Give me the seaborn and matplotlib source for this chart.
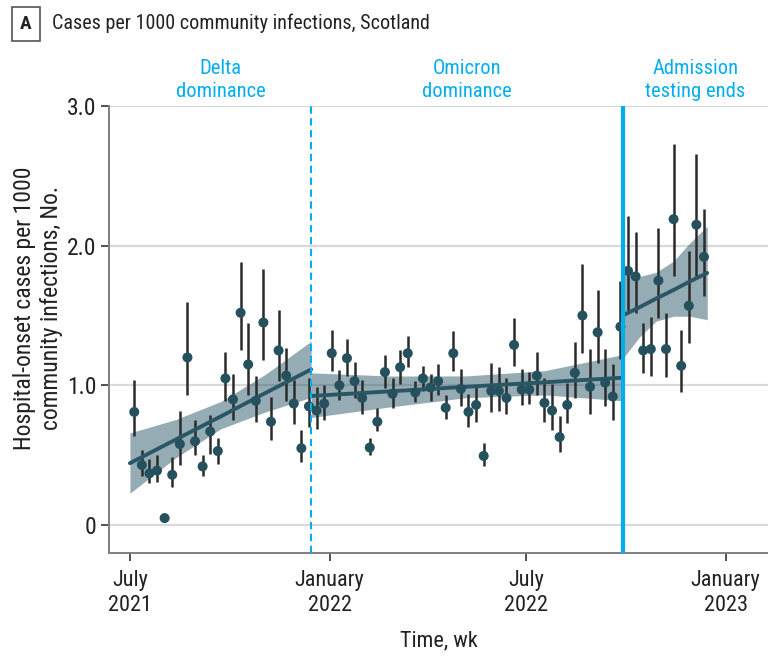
import numpy as np
import pandas as pd
import matplotlib
matplotlib.use("Agg")
import matplotlib.pyplot as plt
import matplotlib.transforms as mtransforms
from matplotlib import font_manager as fm
import seaborn as sns

# ---------------- data ----------------
week_start = "2021-07-05"
n_weeks = 76
rate = [0.81, 0.43, 0.37, 0.39, 0.05, 0.36, 0.58, 1.20, 0.60, 0.42,
        0.67, 0.53, 1.05, 0.90, 1.52, 1.15, 0.89, 1.45, 0.74, 1.25,
        1.07, 0.87, 0.55, 0.85, 0.82, 0.87, 1.23, 1.00, 1.195, 1.03,
        0.91, 0.555, 0.74, 1.095, 0.94, 1.13, 1.23, 0.95, 1.05, 0.985,
        1.03, 0.84, 1.23, 0.975, 0.81, 0.86, 0.495, 0.96, 0.96, 0.91,
        1.29, 0.97, 0.97, 1.07, 0.875, 0.82, 0.63, 0.86, 1.09, 1.50,
        0.99, 1.38, 1.02, 0.92, 1.42, 1.82, 1.78, 1.25, 1.26, 1.75,
        1.26, 2.19, 1.14, 1.57, 2.15, 1.92]
ci_low = [0.64, 0.35, 0.30, 0.31, 0.03, 0.27, 0.43, 0.93, 0.50, 0.35,
          0.51, 0.44, 0.89, 0.75, 1.25, 0.93, 0.74, 1.18, 0.61, 1.03,
          0.89, 0.72, 0.45, 0.70, 0.69, 0.75, 1.10, 0.895, 1.07, 0.91,
          0.795, 0.50, 0.67, 0.98, 0.84, 1.01, 1.13, 0.88, 0.96, 0.89,
          0.93, 0.76, 1.10, 0.85, 0.705, 0.74, 0.42, 0.81, 0.82, 0.795,
          1.14, 0.86, 0.87, 0.93, 0.74, 0.68, 0.52, 0.73, 0.91, 1.23,
          0.795, 1.16, 0.85, 0.75, 1.19, 1.53, 1.52, 1.09, 1.07, 1.48,
          1.06, 1.78, 0.95, 1.30, 1.77, 1.64]
ci_high = [1.04, 0.54, 0.47, 0.50, 0.07, 0.49, 0.82, 1.60, 0.75, 0.50,
           0.79, 0.62, 1.24, 1.08, 1.88, 1.45, 1.07, 1.83, 0.92, 1.54,
           1.27, 1.04, 0.68, 1.05, 0.99, 1.00, 1.40, 1.11, 1.33, 1.17,
           1.04, 0.62, 0.84, 1.22, 1.05, 1.25, 1.35, 1.03, 1.14, 1.08,
           1.15, 0.93, 1.39, 1.12, 0.94, 1.005, 0.585, 1.16, 1.13, 1.05,
           1.48, 1.12, 1.095, 1.24, 1.05, 1.01, 0.78, 1.02, 1.31, 1.87,
           1.26, 1.68, 1.26, 1.15, 1.75, 2.21, 2.10, 1.45, 1.49, 2.13,
           1.52, 2.73, 1.40, 1.96, 2.66, 2.26]

# fitted segments (centre line and confidence band)
delta_fit_dates = ["2021-07-01", "2021-08-12", "2021-09-23", "2021-11-03", "2021-12-15"]
delta_fit = [0.443, 0.611, 0.779, 0.946, 1.114]
delta_band_low = [0.228, 0.480, 0.690, 0.810, 0.914]
delta_band_high = [0.660, 0.755, 0.885, 1.080, 1.316]

omicron_fit_dates = ["2021-12-15", "2022-02-25", "2022-05-07", "2022-07-18", "2022-09-28"]
omicron_fit = [0.924, 0.957, 0.990, 1.022, 1.055]
omicron_band_low = [0.770, 0.845, 0.912, 0.932, 0.890]
omicron_band_high = [1.090, 1.067, 1.068, 1.105, 1.220]

post_fit_dates = ["2022-09-28", "2022-10-14", "2022-10-29", "2022-11-14", "2022-11-29", "2022-12-15"]
post_fit = [1.500, 1.561, 1.622, 1.683, 1.744, 1.805]
post_band_low = [1.19, 1.35, 1.46, 1.495, 1.495, 1.47]
post_band_high = [1.83, 1.78, 1.81, 1.89, 2.02, 2.14]

period_breaks = ["2021-12-15", "2022-09-28"]
period_labels = ["Delta\ndominance", "Omicron\ndominance", "Admission\ntesting ends"]

x_tick_dates = ["2021-07-01", "2022-01-01", "2022-07-01", "2023-01-01"]
x_tick_labels = ["July\n2021", "January\n2022", "July\n2022", "January\n2023"]
y_ticks = [0, 1, 2, 3]
y_tick_labels = ["0", "1.0", "2.0", "3.0"]

title_text = "Cases per 1000 community infections, Scotland"
panel_letter = "A"
x_label = "Time, wk"
y_label = "Hospital-onset cases per 1000\ncommunity infections, No."

# ---------------- font choice: narrowest installed condensed sans ----------------
sns.set_theme(style="white")
names = {f.name for f in fm.fontManager.ttflist}
cond_dejavu = any(f.name == "DejaVu Sans" and str(f.stretch) in ("condensed", "semi-condensed", "587", "500")
                  for f in fm.fontManager.ttflist)
FONT_STRETCH = "normal"
SCALE = 1.0
if "Roboto Condensed" in names:
    FAMILY = "Roboto Condensed"
elif "Liberation Sans Narrow" in names:
    FAMILY = "Liberation Sans Narrow"
elif "Open Sans Condensed" in names:
    FAMILY = "Open Sans Condensed"
elif cond_dejavu:
    FAMILY = "DejaVu Sans"
    FONT_STRETCH = "condensed"
    SCALE = 0.92
else:
    FAMILY = "DejaVu Sans"
    SCALE = 0.8
plt.rcParams["font.family"] = [FAMILY, "DejaVu Sans"]
plt.rcParams["font.stretch"] = FONT_STRETCH

def fs(v):
    return v * SCALE

POINT_C = "#25505e"
LINE_C = "#2a5766"
BAND_C = "#2f5b6c"
ERR_C = "#2b2b2b"
BLUE = "#00aeef"
AX_C = "#7f7f7f"
TXT_C = "#222222"

fig = plt.figure(figsize=(7.68, 6.56), dpi=100)
ax = fig.add_axes([0.1423, 0.157, 0.8577, 0.6814])

df = pd.DataFrame({
    "week": pd.date_range(week_start, periods=n_weeks, freq="7D"),
    "rate": rate, "lo": ci_low, "hi": ci_high,
})

for yv in y_ticks:
    ax.axhline(yv, color="#d9d9d9", lw=1.6, zorder=0)

segments = [
    (delta_fit_dates, delta_fit, delta_band_low, delta_band_high),
    (omicron_fit_dates, omicron_fit, omicron_band_low, omicron_band_high),
    (post_fit_dates, post_fit, post_band_low, post_band_high),
]
for dates, fit, lo, hi in segments:
    d = pd.to_datetime(dates)
    ax.fill_between(d, lo, hi, color=BAND_C, alpha=0.5, lw=0, zorder=1)

ax.vlines(df["week"], df["lo"], df["hi"], color=ERR_C, lw=1.8, zorder=2)

for dates, fit, lo, hi in segments:
    seg = pd.DataFrame({"date": pd.to_datetime(dates), "fit": fit})
    sns.lineplot(data=seg, x="date", y="fit", ax=ax, color=LINE_C, lw=2.8, zorder=3)

sns.scatterplot(data=df, x="week", y="rate", ax=ax, color=POINT_C, s=52,
                edgecolor="none", zorder=4)

b1, b2 = pd.to_datetime(period_breaks)
ax.axvline(b1, color=BLUE, lw=1.5, ls=(0, (3.5, 2.2)), zorder=5)
ax.axvline(b2, color=BLUE, lw=3.0, zorder=5)

xmin, xmax = pd.Timestamp("2021-06-12"), pd.Timestamp("2023-02-09")
ax.set_xlim(xmin, xmax)
ax.set_ylim(-0.2, 3.0)
ax.set_xticks(pd.to_datetime(x_tick_dates))
ax.set_xticklabels(x_tick_labels, fontsize=fs(16), color=TXT_C, linespacing=1.3)
ax.set_yticks(y_ticks)
ax.set_yticklabels(y_tick_labels, fontsize=fs(17), color=TXT_C)
ax.tick_params(axis="x", direction="out", length=6, width=1.2, color="#333333", pad=6, bottom=True)
ax.tick_params(axis="y", direction="out", length=6, width=1.2, color="#333333", pad=3, left=True)
ax.set_xlabel(x_label, fontsize=fs(16), color=TXT_C, labelpad=10)
ax.set_ylabel(y_label, fontsize=fs(17), color=TXT_C, linespacing=1.2)
ax.yaxis.label.set_verticalalignment("center")
ax.yaxis.set_label_coords(-0.108, 0.548)
for s in ["top", "right"]:
    ax.spines[s].set_visible(False)
for s in ["left", "bottom"]:
    ax.spines[s].set_color(AX_C)
    ax.spines[s].set_linewidth(1.4)
ax.grid(False)

trans = mtransforms.blended_transform_factory(ax.transData, ax.transAxes)
starts = [pd.Timestamp(delta_fit_dates[0]), b1, b2]
ends = [b1, b2, xmax]
for lab, s0, e0 in zip(period_labels, starts, ends):
    xc = s0 + (e0 - s0) / 2
    ax.text(xc, 1.058, lab, transform=trans, ha="center", va="center",
            fontsize=fs(14.8), color=BLUE, linespacing=1.3)

fig.text(26 / 768, 1 - 24 / 656, panel_letter, fontsize=fs(14), fontweight="bold",
         ha="center", va="center", color=TXT_C,
         bbox=dict(boxstyle="square,pad=0.4", fc="white", ec="#555555", lw=1.2))
fig.text(52 / 768, 1 - 23 / 656, title_text, fontsize=fs(14.5), ha="left", va="center", color=TXT_C)

fig.savefig("out.png", dpi=100)
